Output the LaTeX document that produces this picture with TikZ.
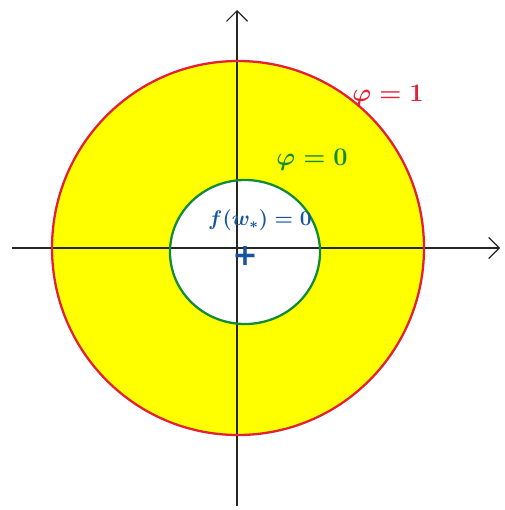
\documentclass[tikz,border=0pt]{standalone}
\usepackage{amsmath}
\usepackage{fontspec}
\setmainfont{DejaVu Sans}
\usepackage{tikz}
\usetikzlibrary{
	arrows.meta,
	positioning
}
\definecolor{ringyellow}{RGB}{255,255,0}
\definecolor{phired}{RGB}{228,32,52}
\definecolor{phigreen}{RGB}{16,140,56}
\definecolor{fblue}{RGB}{22,84,160}

\begin{document}
\begin{tikzpicture}[
			x=0.02cm, y=-0.02cm,
			>={Straight Barb[length=6pt, width=12pt]},
			achse/.style={->, line width=0.7pt, black!85},
			lbl/.style={font=\Large\boldmath, inner sep=1pt}
		]
		\useasboundingbox (0,0) rectangle (504,510);

		% ring between the two level sets
		\fill[ringyellow, even odd rule] (238,248) ellipse (186 and 187) (245,252) ellipse (75 and 72);

		% axes
		\coordinate (xl) at (12,248);
		\coordinate (xr) at (500,248);
		\coordinate (yb) at (237,506);
		\coordinate (yt) at (237,10);
		\draw[achse] (xl) -- (xr);
		\draw[achse] (yb) -- (yt);

		% level sets
		\draw[phired, line width=1.3pt] (238,248) ellipse (186 and 187);
		\draw[phigreen, line width=1.3pt] (245,252) ellipse (75 and 72);

		% minimiser
		\node[fblue, font=\LARGE\bfseries, inner sep=0pt] (wstar) at (245,256) {+};

		\node[lbl, phired] (phi1) at (388,96) {$\varphi=1$};
		\node[lbl, phigreen] (phi0) at (312,160) {$\varphi=0$};
		\node[lbl, fblue, font=\large\boldmath] (fw) at (260,220) {$f(w_*)=0$};
	\end{tikzpicture}
\end{document}
